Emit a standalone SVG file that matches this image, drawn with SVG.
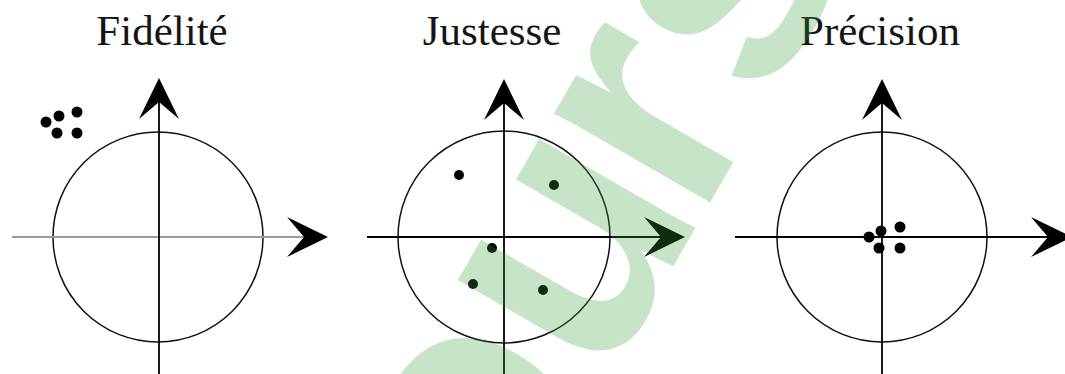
<svg xmlns="http://www.w3.org/2000/svg" width="1065" height="374" viewBox="0 0 1065 374">
<style>
.title{font-family:"Liberation Serif","Times New Roman",serif;font-size:43px;fill:#151515;text-anchor:middle}
.circ{fill:none;stroke:#111;stroke-width:1.5}
.ax{stroke:#000;stroke-width:1.8;fill:none}
.axg{stroke:#9a9a9a;stroke-width:2.2;fill:none}
.dot{fill:#000}
.head{fill:#000}
.wm{font-family:"Liberation Sans",Arial,sans-serif;font-weight:bold;font-size:340px;fill:#399e39;fill-opacity:0.28}
</style>
<defs>
<path id="ah" d="M0,0 L-41,-20 L-24,0 L-41,20 Z"/>
</defs>
<rect width="1065" height="374" fill="#fff"/>
<g id="fidelite">
<text class="title" x="162" y="45">Fidélité</text>
<circle class="circ" cx="158" cy="237" r="105"/>
<line class="axg" x1="12" y1="237" x2="310" y2="237"/>
<line class="ax" x1="159" y1="95" x2="159" y2="374"/>
<use href="#ah" class="head" transform="translate(328,237)"/>
<use href="#ah" class="head" transform="translate(159,78) rotate(-90)"/>
<circle class="dot" cx="46" cy="122" r="5.5"/>
<circle class="dot" cx="59" cy="116" r="5.5"/>
<circle class="dot" cx="77" cy="112" r="5.5"/>
<circle class="dot" cx="57" cy="133" r="5.5"/>
<circle class="dot" cx="77" cy="133" r="5.5"/>
</g>
<g id="justesse">
<text class="title" x="492" y="45">Justesse</text>
<circle class="circ" cx="504" cy="237" r="106"/>
<line class="ax" x1="367" y1="237" x2="668" y2="237"/>
<line class="ax" x1="504" y1="95" x2="504" y2="374"/>
<use href="#ah" class="head" transform="translate(685,237)"/>
<use href="#ah" class="head" transform="translate(504,79) rotate(-90)"/>
<circle class="dot" cx="459" cy="175" r="5"/>
<circle class="dot" cx="554" cy="185" r="5"/>
<circle class="dot" cx="492" cy="248" r="5"/>
<circle class="dot" cx="473" cy="284" r="5"/>
<circle class="dot" cx="543" cy="290" r="5"/>
</g>
<g id="precision">
<text class="title" x="880" y="45">Précision</text>
<circle class="circ" cx="882" cy="237" r="105"/>
<line class="ax" x1="735" y1="237" x2="1055" y2="237"/>
<line class="ax" x1="882" y1="95" x2="882" y2="374"/>
<use href="#ah" class="head" transform="translate(1072,237)"/>
<use href="#ah" class="head" transform="translate(882,79) rotate(-90)"/>
<circle class="dot" cx="869" cy="237" r="5.5"/>
<circle class="dot" cx="881" cy="231" r="5.5"/>
<circle class="dot" cx="900" cy="227" r="5.5"/>
<circle class="dot" cx="879" cy="248" r="5.5"/>
<circle class="dot" cx="900" cy="248" r="5.5"/>
</g>
<g id="watermark">
<text class="wm" transform="translate(499,568) rotate(-60)">ou<tspan dx="-17">r</tspan>s</text>
</g>
</svg>
